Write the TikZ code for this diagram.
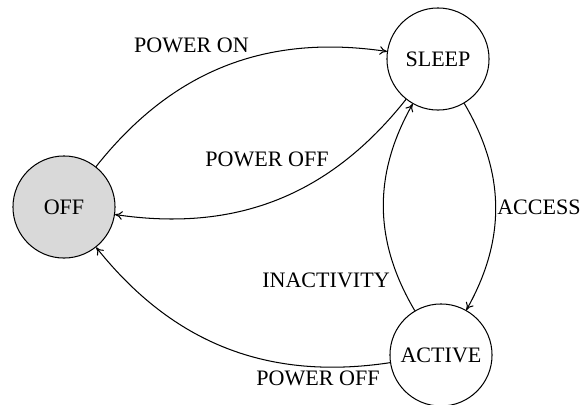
\documentclass[tikz,border=0pt]{standalone}
\usepackage{fontspec}
\setmainfont{Liberation Serif}
\usetikzlibrary{arrows.meta}
\begin{document}
\begin{tikzpicture}[x=0.485pt,y=-0.485pt,
  state/.style={draw,circle,minimum size=49.5pt,inner sep=1pt},
  trans/.style={-{To[length=3.6pt,width=4.2pt]},bend left=30},
  lbl/.style={inner sep=0pt},
  every node/.style={font=\fontsize{10.7}{12}\selectfont},
  line width=0.5pt]
  \useasboundingbox (0,0) rectangle (580,404);
  % states
  \node[state,fill=gray!30] (off)    at (64,207)  {OFF};
  \node[state]              (sleep)  at (438,59)  {SLEEP};
  \node[state]              (active) at (441,355) {ACTIVE};
  % transitions
  \draw[trans] (off)    to (sleep);
  \draw[trans] (sleep)  to (off);
  \draw[trans] (sleep)  to (active);
  \draw[trans] (active) to (sleep);
  \draw[trans] (active) to (off);
  % transition labels
  \node[lbl] (lon)    at (191.5,45.5) {POWER ON};
  \node[lbl] (loff1)  at (267,159.5)  {POWER OFF};
  \node[lbl] (lacc)   at (539,207.5)  {ACCESS};
  \node[lbl] (linact) at (326,280)    {INACTIVITY};
  \node[lbl] (loff2)  at (318,378.5)  {POWER OFF};
\end{tikzpicture}
\end{document}
